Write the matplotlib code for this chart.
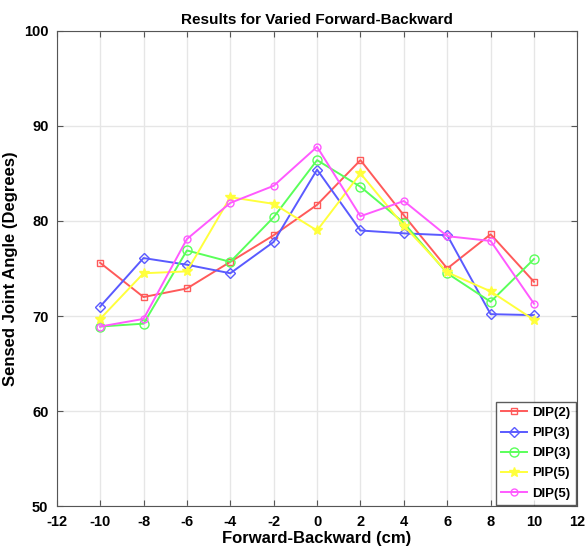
import matplotlib
matplotlib.use('Agg')
import matplotlib.pyplot as plt

x = [-10, -8, -6, -4, -2, 0, 2, 4, 6, 8, 10]

dip2 = [75.6, 72.0, 72.9, 75.7, 78.5, 81.7, 86.4, 80.6, 75.0, 78.6, 73.6]
pip3 = [71.0, 76.1, 75.4, 74.5, 77.8, 85.4, 79.0, 78.7, 78.5, 70.2, 70.1]
dip3 = [68.9, 69.2, 76.9, 75.7, 80.4, 86.4, 83.6, 79.8, 74.5, 71.5, 76.0]
pip5 = [69.7, 74.5, 74.7, 82.5, 81.8, 79.0, 85.0, 79.5, 74.6, 72.6, 69.6]
dip5 = [68.9, 69.7, 78.1, 81.9, 83.7, 87.8, 80.5, 82.1, 78.4, 77.9, 71.3]

names = ['DIP(2)', 'PIP(3)', 'DIP(3)', 'PIP(5)', 'DIP(5)']

plt.rcParams['font.family'] = ['Liberation Sans', 'DejaVu Sans']
plt.rcParams['font.weight'] = 'bold'
plt.rcParams['axes.unicode_minus'] = False

fig = plt.figure(figsize=(5.85, 5.6), dpi=100)
ax = fig.add_axes([0.097, 0.096, 0.89, 0.849])

ax.plot(x, dip2, color='#ff5a5a', marker='s', mfc='none', ms=5, lw=1.4, label=names[0])
ax.plot(x, pip3, color='#5a5aff', marker='D', mfc='none', ms=5, lw=1.4, label=names[1])
ax.plot(x, dip3, color='#5aff5a', marker='o', mfc='none', ms=6.5, lw=1.4, label=names[2])
ax.plot(x, pip5, color='#ffff3c', marker='*', ms=7, lw=1.4, label=names[3])
ax.plot(x, dip5, color='#ff5aff', marker='o', mfc='none', ms=5, lw=1.4, label=names[4])

ax.set_xlim(-12, 12)
ax.set_ylim(50, 100)
ax.set_xticks(range(-12, 13, 2))
ax.set_yticks(range(50, 101, 10))
ax.grid(True, color='#e6e6e6', lw=1)
ax.set_axisbelow(True)
ax.tick_params(direction='in', top=True, right=True, labelsize=10.5, length=4, color='#555555')
ax.tick_params(axis='x', pad=6)
ax.tick_params(axis='y', pad=6)
for s in ax.spines.values():
    s.set_color('#555555')

ax.set_title('Results for Varied Forward-Backward', fontsize=11, fontweight='bold', pad=5)
ax.set_xlabel('Forward-Backward (cm)', fontsize=12, fontweight='bold', labelpad=2)
ax.set_ylabel('Sensed Joint Angle (Degrees)', fontsize=12, fontweight='bold', labelpad=4)

leg = ax.legend(loc='lower right', fontsize=9.5, fancybox=False, edgecolor='#333333',
                borderaxespad=0.1, handlelength=2.0, borderpad=0.4, labelspacing=0.6,
                handletextpad=0.4)
leg.get_frame().set_linewidth(1)

fig.savefig('out.png', dpi=100)
